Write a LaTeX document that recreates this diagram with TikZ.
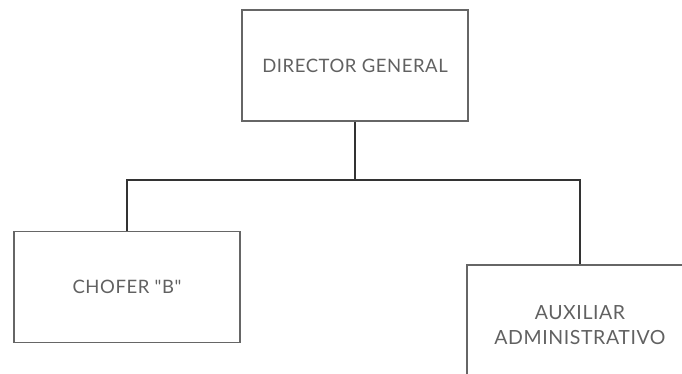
\documentclass[tikz,border=0pt]{standalone}
\usepackage{fontspec}
\setmainfont{Lato}[LetterSpace=3, Ligatures=TeXOff]
\begin{document}
\begin{tikzpicture}[x=1pt,y=-1pt,
  box/.style={draw=black!60, line width=1.3pt, minimum width=226pt, minimum height=111pt, inner sep=0pt, align=center, text=black!62, font=\fontsize{18.5}{25}\selectfont},
  link/.style={draw=black!80, line width=2pt}]
\clip (0,0) rectangle (682,373);
\useasboundingbox (0,0) rectangle (682,373);
\node[box] (dir) at (355,65.5) {DIRECTOR GENERAL};
\node[box] (cho) at (127,287) {CHOFER "B"};
\node[box, minimum height=120pt, font=\fontsize{19.5}{24.5}\selectfont] (aux) at (580,325) {AUXILIAR\\ADMINISTRATIVO};
\coordinate (j) at (355,180);
\draw[link] (dir.south) -- (j);
\draw[link] (cho.north) |- (j) -| (aux.north);
\end{tikzpicture}
\end{document}
